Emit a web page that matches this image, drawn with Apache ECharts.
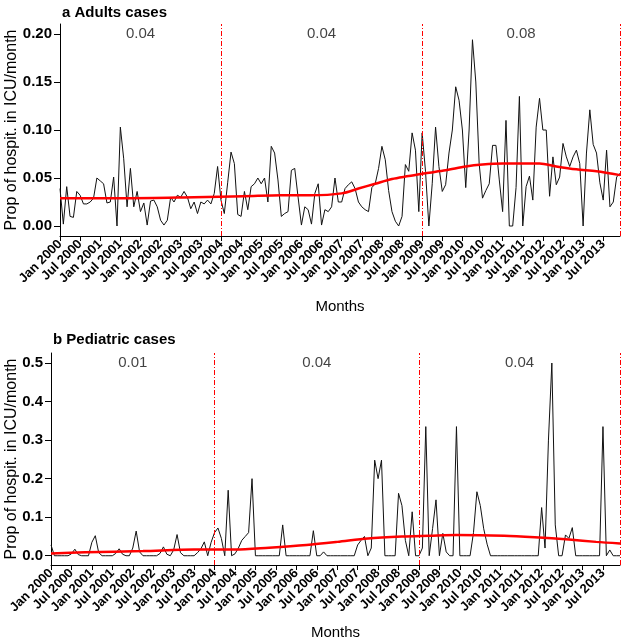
<!DOCTYPE html>
<html><head><meta charset="utf-8">
<script src="https://cdn.jsdelivr.net/npm/echarts@6/dist/echarts.min.js"></script>
<style>html,body{margin:0;padding:0;background:#fff}#c{width:624px;height:643px}</style>
</head><body><div id="c"></div>
<script>
// Month tick labels (every 6 months, starting Jan 2000 = month index 0)
const tickLabels = ['Jan 2000','Jul 2000','Jan 2001','Jul 2001','Jan 2002','Jul 2002','Jan 2003','Jul 2003',
  'Jan 2004','Jul 2004','Jan 2005','Jul 2005','Jan 2006','Jul 2006','Jan 2007','Jul 2007',
  'Jan 2008','Jul 2008','Jan 2009','Jul 2009','Jan 2010','Jul 2010','Jan 2011','Jul 2011',
  'Jan 2012','Jul 2012','Jan 2013','Jul 2013'];
const tickStep = 6;

// Monthly proportion, adults (Jan 2000 .. Dec 2013)
const adults = [
  0.039,0.002,0.041,0.010,0.009,0.036,0.032,0.023,0.023,0.025,0.029,0.050,
  0.047,0.044,0.024,0.025,0.051,0.000,0.103,0.070,0.020,0.060,0.020,0.036,
  0.015,0.024,0.001,0.026,0.027,0.020,0.006,0.001,0.006,0.030,0.025,0.032,
  0.030,0.036,0.030,0.018,0.025,0.013,0.025,0.023,0.027,0.023,0.034,0.062,
  0.027,0.013,0.045,0.077,0.065,0.012,0.010,0.036,0.017,0.041,0.044,0.050,
  0.044,0.050,0.025,0.083,0.076,0.048,0.010,0.013,0.015,0.058,0.060,0.030,
  0.001,0.020,0.017,0.002,0.034,0.044,0.001,0.017,0.015,0.020,0.050,0.025,
  0.025,0.039,0.043,0.046,0.039,0.025,0.020,0.017,0.015,0.040,0.044,0.060,
  0.083,0.069,0.037,0.015,0.005,0.000,0.010,0.064,0.057,0.097,0.079,0.015,
  0.097,0.057,0.000,0.044,0.103,0.062,0.036,0.043,0.076,0.100,0.145,0.131,
  0.100,0.040,0.100,0.194,0.150,0.065,0.029,0.037,0.044,0.084,0.084,0.048,
  0.015,0.110,0.000,0.000,0.040,0.135,0.000,0.041,0.052,0.027,0.103,0.133,
  0.100,0.100,0.031,0.072,0.043,0.051,0.086,0.072,0.062,0.072,0.079,0.065,
  0.000,0.076,0.121,0.085,0.076,0.045,0.027,0.079,0.020,0.025,0.051,0.055
];
// Monthly proportion, pediatric
const pediatric = [
  0.028,0,0,0,0,0,0.005,0.017,0.003,0,0,0,
  0.035,0.052,0.008,0,0,0,0,0.006,0.018,0.004,0,0,
  0.020,0.064,0.010,0,0,0,0,0,0.006,0.023,0.004,0,
  0.015,0.055,0.008,0,0,0,0,0.008,0.018,0.036,0,0.035,
  0.060,0.072,0.045,0,0.170,0,0.005,0.020,0.040,0.050,0.060,0.200,
  0,0,0,0,0,0,0,0,0.080,0,0,0,
  0,0,0,0,0,0.065,0,0,0.010,0,0,0,
  0,0,0,0,0,0,0.028,0.040,0.050,0,0.020,0.248,
  0.200,0.248,0,0,0,0,0.162,0.130,0.040,0,0.114,0,
  0,0.020,0.335,0,0.071,0.145,0,0.058,0.010,0,0,0.335,
  0,0,0,0,0.060,0.166,0.130,0.070,0.030,0,0,0,
  0,0,0,0,0,0,0,0,0,0,0,0,
  0.125,0.020,0.300,0.500,0.080,0,0,0.054,0.045,0.073,0,0,
  0,0,0,0,0,0,0.335,0,0.015,0,0,0
];

// Smoothed trend (read at selected months)
const adultsTrendMonths = [0,20,40,55,66,75,84,89,94,99,104,109,115,121,126,132,139,143,148,154,160,167];
const adultsTrendValues = [0.029,0.029,0.030,0.031,0.032,0.032,0.034,0.039,0.044,0.049,0.052,0.055,0.058,0.062,0.064,0.065,0.065,0.065,0.062,0.059,0.057,0.053];
const pedTrendMonths = [0,10,27,42,54,64,75,84,93,103,111,119,133,142,152,160,167];
const pedTrendValues = [0.006,0.009,0.012,0.016,0.016,0.021,0.028,0.036,0.045,0.050,0.052,0.054,0.052,0.048,0.042,0.036,0.032];

// Period breaks (month index) and period labels
const periodBreaks = [0, 48, 108, 167];
const adultsPeriodLabels = ['0.04','0.04','0.08'];
const pedPeriodLabels = ['0.01','0.04','0.04'];

const adultsYTicks = [0, 0.05, 0.10, 0.15, 0.20];
const pedYTicks = [0, 0.1, 0.2, 0.3, 0.4, 0.5];

const FONT = 'Liberation Sans, Arial, Helvetica, sans-serif';
const xTickValues = tickLabels.map((_, i) => i * tickStep);
const RED = '#ff0000';

function xAxisCfg(gi) {
  return {
    type: 'value', gridIndex: gi, min: 0, max: adults.length - 1,
    axisLine: { show: true, onZero: false, lineStyle: { color: '#000', width: 1 } },
    axisTick: { show: true, customValues: xTickValues, length: 5, lineStyle: { color: '#000' } },
    axisLabel: { customValues: xTickValues, rotate: 45, fontSize: 13, fontWeight: 'bold', color: '#000', fontFamily: FONT, margin: 6,
      formatter: v => tickLabels[Math.round(v / tickStep)] },
    splitLine: { show: false },
    name: 'Months', nameLocation: 'middle', nameGap: gi === 0 ? 63 : 60, nameMoveOverlap: false,
    nameTextStyle: { fontSize: 15, color: '#000', fontFamily: FONT }
  };
}
function yAxisCfg(gi, ticks, min, max, dec, gap) {
  return {
    type: 'value', gridIndex: gi, min: min, max: max,
    axisLine: { show: true, onZero: false, lineStyle: { color: '#000', width: 1 } },
    axisTick: { show: true, customValues: ticks, length: 6, lineStyle: { color: '#000' } },
    axisLabel: { customValues: ticks, fontSize: 15, fontWeight: 'bold', color: '#000', fontFamily: FONT, margin: 8,
      formatter: v => v.toFixed(dec) },
    splitLine: { show: false },
    name: 'Prop of hospit. in ICU/month', nameLocation: 'middle', nameGap: gap, nameMoveOverlap: false,
    nameTextStyle: { fontSize: 16, color: '#000', fontFamily: FONT }
  };
}
function periodMarks(gi, labels, yTop) {
  const pts = [];
  for (let k = 0; k < labels.length; k++) {
    pts.push({ value: [(periodBreaks[k] + periodBreaks[k + 1]) / 2, yTop], name: labels[k] });
  }
  return {
    type: 'scatter', xAxisIndex: gi, yAxisIndex: gi, symbolSize: 0, silent: true, data: pts,
    label: { show: true, position: 'inside', formatter: p => p.name, fontSize: 15, color: '#111', fontFamily: FONT }
  };
}
function dataSeries(gi, arr) {
  return {
    type: 'line', xAxisIndex: gi, yAxisIndex: gi, showSymbol: false, silent: true,
    data: arr.map((v, i) => [i, v]),
    lineStyle: { color: '#111', width: 1 }, itemStyle: { color: '#111' },
    markLine: { silent: true, symbol: 'none', label: { show: false },
      lineStyle: { color: RED, type: [5, 2, 1, 2], width: 1, opacity: 1 },
      emphasis: { disabled: true },
      data: periodBreaks.slice(1).map(b => ({ xAxis: b, lineStyle: { color: RED, type: [5, 2, 1, 2], width: 1 } })) }
  };
}
function trendSeries(gi, xs, ys) {
  return {
    type: 'line', xAxisIndex: gi, yAxisIndex: gi, showSymbol: false, silent: true, smooth: 0.3,
    data: xs.map((x, i) => [x, ys[i]]),
    lineStyle: { color: RED, width: 2.5 }, itemStyle: { color: RED }, z: 3
  };
}

const chart = echarts.init(document.getElementById('c'), null, { renderer: 'canvas' });
chart.setOption({
  animation: false,
  backgroundColor: '#fff',
  title: [
    { text: 'a Adults cases', left: 57, top: 0, textStyle: { fontSize: 15, fontWeight: 'bold', color: '#000', fontFamily: FONT } },
    { text: 'b Pediatric cases', left: 48, top: 327, textStyle: { fontSize: 15, fontWeight: 'bold', color: '#000', fontFamily: FONT } }
  ],
  grid: [
    { left: 60, top: 24, width: 560, height: 212, outerBoundsMode: 'none', containLabel: false },
    { left: 51, top: 353, width: 569, height: 212, outerBoundsMode: 'none', containLabel: false }
  ],
  xAxis: [xAxisCfg(0), xAxisCfg(1)],
  yAxis: [
    yAxisCfg(0, adultsYTicks, -0.0104, 0.2104, 2, 40),
    yAxisCfg(1, pedYTicks, -0.024, 0.526, 1, 31)
  ],
  series: [
    dataSeries(0, adults),
    trendSeries(0, adultsTrendMonths, adultsTrendValues),
    periodMarks(0, adultsPeriodLabels, adultsYTicks[adultsYTicks.length - 1]),
    dataSeries(1, pediatric),
    trendSeries(1, pedTrendMonths, pedTrendValues),
    periodMarks(1, pedPeriodLabels, pedYTicks[pedYTicks.length - 1])
  ]
});
</script>
</body></html>
